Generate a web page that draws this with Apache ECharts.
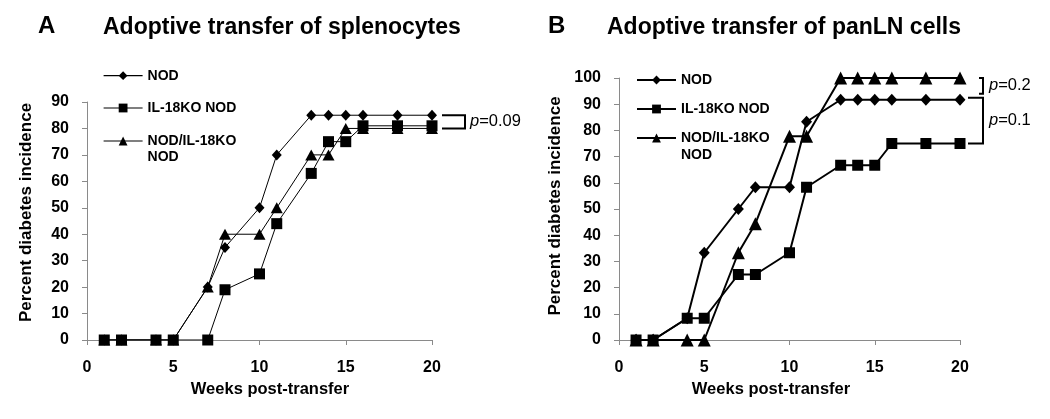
<!DOCTYPE html>
<html><head><meta charset="utf-8">
<script src="https://cdn.jsdelivr.net/npm/echarts@6/dist/echarts.min.js"></script>
<style>html,body{margin:0;padding:0;background:#fff}#c{width:1050px;height:419px}</style>
</head><body><div id="c"></div>
<script>
// ---------- data ----------
const weeks = [1, 2, 4, 5, 7, 8, 10, 11, 13, 14, 15, 16, 18, 20];
const seriesNames = ['NOD', 'IL-18KO NOD', 'NOD/IL-18KO NOD'];
// Panel A: splenocytes
const splenoNOD = [0, 0, 0, 0, 20, 35, 50, 70, 85, 85, 85, 85, 85, 85];
const splenoKO  = [0, 0, 0, 0, 0, 19, 25, 44, 63, 75, 75, 81, 81, 81];
const splenoMix = [0, 0, 0, 0, 20, 40, 40, 50, 70, 70, 80, 80, 80, 80];
// Panel B: panLN cells
const panlnNOD = [0, 0, 8.3, 33.3, 50, 58.3, 58.3, 83.3, 91.7, 91.7, 91.7, 91.7, 91.7, 91.7];
const panlnKO  = [0, 0, 8.3, 8.3, 25, 25, 33.3, 58.3, 66.7, 66.7, 66.7, 75, 75, 75];
const panlnMix = [0, 0, 0, 0, 33.3, 44.4, 77.8, 77.8, 100, 100, 100, 100, 100, 100];
const xTickLabels = [0, 5, 10, 15, 20];
const yMaxA = 90, yMaxB = 100;
const panelLetters = ['A', 'B'];
const panelTitles = ['Adoptive transfer of splenocytes', 'Adoptive transfer of panLN cells'];
const xName = 'Weeks post-transfer';
const yName = 'Percent diabetes incidence';
const pLabelA = '0.09', pLabelB1 = '0.2', pLabelB2 = '0.1';
// brackets: [week anchor, top value, bottom value]
const bracketA = [20, 85, 80];
const bracketB1 = [20, 100, 94];
const bracketB2 = [20, 92.5, 75];

// ---------- chart ----------
const FF = "'Liberation Sans', Arial, sans-serif";
const chart = echarts.init(document.getElementById('c'), null, {renderer: 'canvas'});
const pair = arr => weeks.map((w, i) => [w, arr[i]]);
const axisGray = '#8a8a8a';

function xAxis(gi, pad) {
  return {
    type: 'value', gridIndex: gi, min: 0, max: 20, interval: 5,
    axisLine: {show: true, lineStyle: {color: axisGray, width: 1}},
    axisTick: {show: true, length: 5, lineStyle: {color: axisGray}},
    splitLine: {show: false},
    axisLabel: {color: '#000', fontWeight: 'bold', fontSize: 16, fontFamily: FF, margin: 20,
      formatter: v => xTickLabels.includes(v) ? String(v) : ''},
    name: xName, nameLocation: 'middle', nameGap: 40,
    nameTextStyle: {color: '#000', fontWeight: 'bold', fontSize: 16.5, fontFamily: FF, padding: pad}
  };
}
function yAxis(gi, max, gap, pad) {
  return {
    type: 'value', gridIndex: gi, min: 0, max: max, interval: 10,
    axisLine: {show: true, lineStyle: {color: axisGray, width: 1}},
    axisTick: {show: true, length: 5, lineStyle: {color: axisGray}},
    splitLine: {show: false},
    axisLabel: {color: '#000', fontWeight: 'bold', fontSize: 16, fontFamily: FF, margin: 18},
    name: yName, nameLocation: 'middle', nameGap: gap,
    nameTextStyle: {color: '#000', fontWeight: 'bold', fontSize: 17, fontFamily: FF, padding: pad}
  };
}
function line(name, data, gi, symbol, size, width, z) {
  return {
    type: 'line', name: name, xAxisIndex: gi, yAxisIndex: gi, data: pair(data),
    symbol: symbol, symbolSize: size, showSymbol: true, z: z,
    lineStyle: {color: '#000', width: width},
    itemStyle: {color: '#000', borderWidth: 0},
    emphasis: {disabled: true}
  };
}
const legendText = {color: '#000', fontWeight: 'bold', fontSize: 14, fontFamily: FF, lineHeight: 18};
function legend(left, top, names, gap, lw, multi, lh) {
  const l = {
    left: left, top: top, orient: 'vertical', padding: 0, itemGap: gap,
    itemWidth: 39, itemHeight: 11, selectedMode: false,
    data: names, lineStyle: {width: lw, color: '#000'}, itemStyle: {color: '#000'},
    textStyle: Object.assign({}, legendText)
  };
  if (multi) {
    l.formatter = () => '{e| }\n{t|NOD/IL-18KO}\n{t|NOD}';
    l.textStyle.rich = {
      e: {fontSize: 14, lineHeight: lh, fontFamily: FF, fontWeight: 'bold'},
      t: {fontSize: 14, lineHeight: lh, fontFamily: FF, fontWeight: 'bold', color: '#000'}
    };
  }
  return l;
}

const titleStyle = (fs) => ({color: '#000', fontWeight: 'bold', fontSize: fs, fontFamily: FF});

chart.setOption({
  animation: false,
  backgroundColor: '#fff',
  title: [
    {text: panelLetters[0], left: 38, top: 14.5, padding: 0, textStyle: titleStyle(24)},
    {text: panelTitles[0], left: 103, top: 16.5, padding: 0, textStyle: titleStyle(23)},
    {text: panelLetters[1], left: 548, top: 14, padding: 0, textStyle: titleStyle(24)},
    {text: panelTitles[1], left: 607, top: 16.5, padding: 0, textStyle: titleStyle(23)}
  ],
  grid: [
    {left: 87, top: 102, width: 345, height: 238},
    {left: 619, top: 78, width: 341, height: 262}
  ],
  xAxis: [xAxis(0, [0, 0, 0, 21]), xAxis(1, [0, 37, 0, 0])],
  yAxis: [yAxis(0, yMaxA, 52, [0, 0, 0, 17]), yAxis(1, yMaxB, 55, [0, 0, 0, 6])],
  legend: [
    legend(103, 66.7, [seriesNames[0], seriesNames[1]], 14.3, 1.2, false),
    legend(103, 117, [seriesNames[2]], 10, 1.2, true, 16),
    legend(636, 71, [seriesNames[0], seriesNames[1]], 11, 2, false),
    legend(636, 112.5, [seriesNames[2]], 10, 2, true, 17)
  ],
  series: [
    line(seriesNames[0], splenoNOD, 0, 'diamond', [10, 11], 1, 2),
    line(seriesNames[2], splenoMix, 0, 'triangle', [12, 11], 1, 3),
    line(seriesNames[1], splenoKO, 0, 'rect', 11, 1, 4),
    line(seriesNames[0], panlnNOD, 1, 'diamond', [11, 12], 2, 2),
    line(seriesNames[1], panlnKO, 1, 'rect', 11, 2, 3),
    line(seriesNames[2], panlnMix, 1, 'triangle', 13, 2, 4)
  ]
});

// brackets and p-values (annotations), placed through the axes
function bracket(gi, b, dx1, dx2) {
  const p1 = chart.convertToPixel({gridIndex: gi}, [b[0], b[1]]);
  const p2 = chart.convertToPixel({gridIndex: gi}, [b[0], b[2]]);
  return {
    type: 'polyline', silent: true,
    shape: {points: [[p1[0] + dx1, p1[1]], [p1[0] + dx2, p1[1]], [p1[0] + dx2, p2[1]], [p1[0] + dx1, p2[1]]]},
    style: {stroke: '#000', lineWidth: 2, fill: null}
  };
}
function pText(gi, b, dx, val) {
  const p1 = chart.convertToPixel({gridIndex: gi}, [b[0], b[1]]);
  const p2 = chart.convertToPixel({gridIndex: gi}, [b[0], b[2]]);
  return {
    type: 'text', silent: true, x: p1[0] + dx, y: (p1[1] + p2[1]) / 2,
    style: {
      text: '{i|p}=' + val, fill: '#000', fontSize: 16.5, fontFamily: FF, verticalAlign: 'middle',
      rich: {i: {fontStyle: 'italic', fontSize: 16.5, fontFamily: FF, fill: '#000'}}
    }
  };
}
chart.setOption({
  graphic: [
    bracket(0, bracketA, 10, 33),
    pText(0, bracketA, 38, pLabelA),
    bracket(1, bracketB1, 19, 23),
    pText(1, bracketB1, 29, pLabelB1),
    bracket(1, bracketB2, 8, 23),
    pText(1, bracketB2, 29, pLabelB2)
  ]
});
</script></body></html>
